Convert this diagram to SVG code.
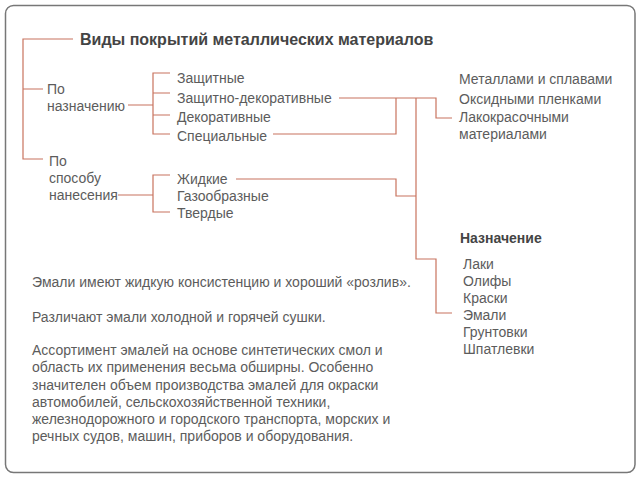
<svg xmlns="http://www.w3.org/2000/svg" width="640" height="480" viewBox="0 0 640 480">
<style>
.t{font-family:"Liberation Sans",Arial,sans-serif;font-size:14px;fill:#5c5c5c;dominant-baseline:central}
.b{font-weight:bold;fill:#444}
.h{font-size:16px}
.c{fill:none;stroke:#c8735e;stroke-width:1.2}
</style>
<rect x="5.5" y="5.5" width="629.5" height="467" rx="8" fill="#fff" stroke="#777" stroke-width="1.5"/>
<g id="connectors" class="c">
<path d="M73 39H23V159H43M23 89H43"/>
<path d="M128 105H153M170 73H153V134H170M153 93H170M153 115H170"/>
<path d="M118 195H153M170 175H153V212H170"/>
<path d="M339 98H436V118H452M396 98V134H273"/>
<path d="M236 179H396V196H416"/>
<path d="M416 98V259H436V313H452"/>
</g>
<g id="title"><text class="t b h" x="80" y="39">Виды покрытий металлических материалов</text></g>
<g id="naznach"><text class="t" x="47" y="89">По</text><text class="t" x="47" y="106">назначению</text></g>
<g id="sposob"><text class="t" x="49" y="161">По</text><text class="t" x="49" y="178">способу</text><text class="t" x="49" y="195">нанесения</text></g>
<g id="types1">
<text class="t" x="177" y="78">Защитные</text>
<text class="t" x="177" y="98">Защитно-декоративные</text>
<text class="t" x="177" y="117">Декоративные</text>
<text class="t" x="177" y="136">Специальные</text>
</g>
<g id="types2">
<text class="t" x="177" y="179">Жидкие</text>
<text class="t" x="177" y="196">Газообразные</text>
<text class="t" x="177" y="213">Твердые</text>
</g>
<g id="right1">
<text class="t" x="459" y="79">Металлами и сплавами</text>
<text class="t" x="459" y="99">Оксидными пленками</text>
<text class="t" x="459" y="117">Лакокрасочными</text>
<text class="t" x="459" y="134">материалами</text>
</g>
<g id="naznachenie"><text class="t b" x="460" y="238">Назначение</text></g>
<g id="right2">
<text class="t" x="463" y="264">Лаки</text>
<text class="t" x="463" y="281">Олифы</text>
<text class="t" x="463" y="298">Краски</text>
<text class="t" x="463" y="315">Эмали</text>
<text class="t" x="463" y="332">Грунтовки</text>
<text class="t" x="463" y="349">Шпатлевки</text>
</g>
<g id="paragraph">
<text class="t" x="32" y="282">Эмали имеют жидкую консистенцию и хороший «розлив».</text>
<text class="t" x="32" y="317">Различают эмали холодной и горячей сушки.</text>
<text class="t" x="32" y="350">Ассортимент эмалей на основе синтетических смол и</text>
<text class="t" x="32" y="367">область их применения весьма обширны. Особенно</text>
<text class="t" x="32" y="385">значителен объем производства эмалей для окраски</text>
<text class="t" x="32" y="402">автомобилей, сельскохозяйственной техники,</text>
<text class="t" x="32" y="419">железнодорожного и городского транспорта, морских и</text>
<text class="t" x="32" y="436">речных судов, машин, приборов и оборудования.</text>
</g>
</svg>
